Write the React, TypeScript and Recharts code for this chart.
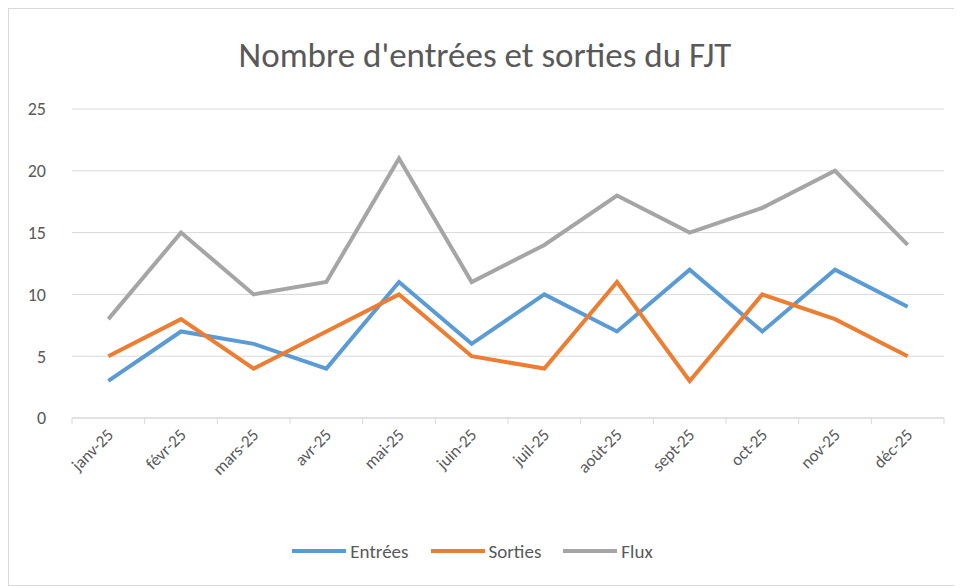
import { LineChart, Line, XAxis, YAxis, CartesianGrid, Legend } from "recharts";

const months = ["janv-25", "févr-25", "mars-25", "avr-25", "mai-25", "juin-25", "juil-25", "août-25", "sept-25", "oct-25", "nov-25", "déc-25"];
const entrees = [3, 7, 6, 4, 11, 6, 10, 7, 12, 7, 12, 9];
const sorties = [5, 8, 4, 7, 10, 5, 4, 11, 3, 10, 8, 5];
const flux = [8, 15, 10, 11, 21, 11, 14, 18, 15, 17, 20, 14];
const yTicks = [0, 5, 10, 15, 20, 25];

const series = [
  { key: "entrees", name: "Entrées", color: "#5B9BD5" },
  { key: "sorties", name: "Sorties", color: "#ED7D31" },
  { key: "flux", name: "Flux", color: "#A5A5A5" },
];

const data = months.map((m, i) => ({
  month: m,
  entrees: entrees[i],
  sorties: sorties[i],
  flux: flux[i],
}));

const W = 954;
const H = 578;
const plotWidth = 872;
const band = plotWidth / months.length;
const font = "Calibri, Carlito, 'Liberation Sans', sans-serif";

function MonthTick(props: any) {
  const { x, y, payload, index } = props;
  const last = index === months.length - 1;
  return (
    <g>
      <line x1={x - band / 2} y1={y - 8} x2={x - band / 2} y2={y - 2} stroke="#d9d9d9" />
      {last && <line x1={x + band / 2} y1={y - 8} x2={x + band / 2} y2={y - 2} stroke="#d9d9d9" />}
      <text
        x={x + 6}
        y={y + 10}
        textAnchor="end"
        fill="#595959"
        fontSize={17}
        fontFamily={font}
        transform={`rotate(-45, ${x + 6}, ${y + 10})`}
      >
        {payload.value}
      </text>
    </g>
  );
}

function LegendContent() {
  return (
    <div style={{ display: "flex", justifyContent: "center", alignItems: "center", height: 24, fontFamily: font, fontSize: 19, color: "#595959", paddingLeft: 14 }}>
      {series.map((s) => (
        <div key={s.key} style={{ display: "flex", alignItems: "center", marginRight: 22 }}>
          <div style={{ width: 54, height: 4, background: s.color, marginRight: 4 }} />
          <span>{s.name}</span>
        </div>
      ))}
    </div>
  );
}

export default function App() {
  return (
    <div style={{ position: "relative", width: W, height: H, border: "1px solid #d9d9d9", boxSizing: "border-box", background: "#fff" }}>
      <div
        style={{
          position: "absolute",
          top: 25,
          left: 0,
          width: "100%",
          textAlign: "center",
          fontFamily: font,
          fontSize: 35,
          color: "#595959",
        }}
      >
        Nombre d'entrées et sorties du FJT
      </div>
      <LineChart width={W - 2} height={H - 2} data={data} margin={{ top: 100, right: 17, left: 0, bottom: 22 }}>
        <CartesianGrid vertical={false} stroke="#d9d9d9" />
        <XAxis
          dataKey="month"
          axisLine={{ stroke: "#d9d9d9" }}
          tickLine={false}
          tick={<MonthTick />}
          height={121}
          interval={0}
          padding={{ left: band / 2, right: band / 2 }}
        />
        <YAxis
          domain={[0, 25]}
          ticks={yTicks}
          axisLine={false}
          tickLine={false}
          width={63}
          tick={{ fill: "#595959", fontSize: 18, fontFamily: font }}
          tickMargin={20}
        />
        <Legend verticalAlign="bottom" height={24} content={<LegendContent />} />
        {series.map((s) => (
          <Line key={s.key} dataKey={s.key} name={s.name} stroke={s.color} strokeWidth={4} dot={false} isAnimationActive={false} />
        ))}
      </LineChart>
    </div>
  );
}
